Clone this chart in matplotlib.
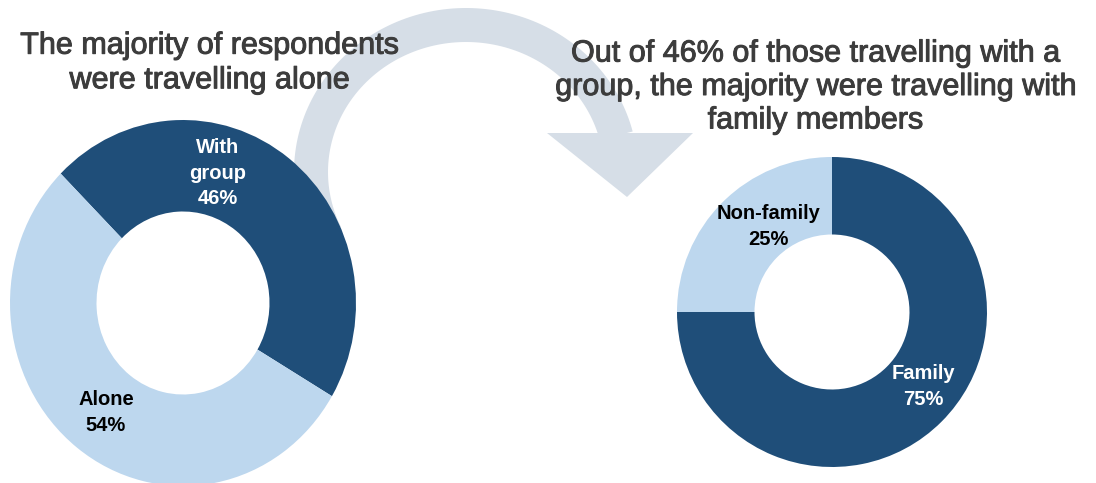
import numpy as np
import matplotlib
matplotlib.use("Agg")
import matplotlib.pyplot as plt
import matplotlib.patheffects as pe
from matplotlib.patches import Polygon

plt.rcParams['font.family'] = ['Liberation Sans', 'DejaVu Sans']

# data
travel_labels = ['With\ngroup', 'Alone']
travel_values = [46, 54]
group_labels = ['Family', 'Non-family']
group_values = [75, 25]

left_title = 'The majority of respondents\nwere travelling alone'
right_title = 'Out of 46% of those travelling with a\ngroup, the majority were travelling with\nfamily members'

dark = '#1f4e79'
light = '#bdd7ee'
arrow_col = '#d6dee7'
title_col = '#3c3c3c'

W, H = 1096, 483
fig = plt.figure(figsize=(W / 100, H / 100), dpi=100)

# background axes in pixel units for titles and the curved arrow
bg = fig.add_axes([0, 0, 1, 1])
bg.set_xlim(0, W)
bg.set_ylim(H, 0)
bg.axis('off')

# curved arrow band (elliptical arc) + arrow head
cx, cy, a, b, half = 466, 172, 155, 147, 17
theta = np.radians(np.linspace(205, 14.3, 120))
outer = np.column_stack([cx + (a + half) * np.cos(theta), cy - (b + half) * np.sin(theta)])
inner = np.column_stack([cx + (a - half) * np.cos(theta), cy - (b - half) * np.sin(theta)])
band = np.vstack([outer, inner[::-1]])
bg.add_patch(Polygon(band, closed=True, facecolor=arrow_col, edgecolor='none', zorder=1))
bg.add_patch(Polygon([[547, 133], [693, 133], [627, 197]], closed=True,
                     facecolor=arrow_col, edgecolor='none', zorder=1))

thick = [pe.withStroke(linewidth=0.7, foreground=title_col)]
bg.text(209, 63, left_title, ha='center', va='center', fontsize=22,
        color=title_col, linespacing=1.2, path_effects=thick)
bg.text(815, 87, right_title, ha='center', va='center', fontsize=22,
        color=title_col, linespacing=1.15, path_effects=thick)


def donut(px_left, px_top, px_w, px_h, values, colors, start):
    ax = fig.add_axes([px_left / W, 1 - (px_top + px_h) / H, px_w / W, px_h / H])
    ax.pie(values, colors=colors, startangle=start, counterclock=False,
           wedgeprops=dict(width=0.5, edgecolor='none'))
    ax.set_aspect('auto')
    ax.set_xlim(-1, 1)
    ax.set_ylim(-1, 1)
    ax.axis('off')
    return ax


lab = dict(ha='center', va='center', fontsize=14.5, fontweight='bold', linespacing=1.45)

# left donut (slightly taller than wide, as in the source)
ax1 = donut(10, 120, 346, 366, travel_values, [dark, light], 135)
ax1.text(0.20, 0.71, f'{travel_labels[0]}\n{travel_values[0]}%', color='white', **lab)
ax1.text(-0.445, -0.60, f'{travel_labels[1]}\n{travel_values[1]}%', color='black', **lab)

# right donut
ax2 = donut(677, 157, 310, 310, group_values, [dark, light], 90)
ax2.text(0.59, -0.48, f'{group_labels[0]}\n{group_values[0]}%', color='white', **lab)
ax2.text(-0.41, 0.55, f'{group_labels[1]}\n{group_values[1]}%', color='black', **lab)

fig.savefig('out.png', dpi=100)
